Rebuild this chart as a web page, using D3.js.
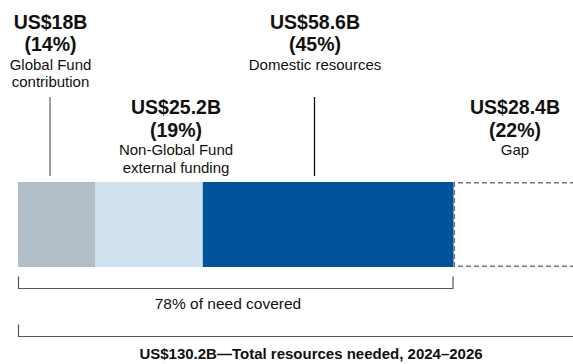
<!DOCTYPE html>
<html>
<head>
<meta charset="utf-8">
<script src="https://cdn.jsdelivr.net/npm/d3@7"></script>
<style>
  body { margin: 0; background: #fff; }
  text { font-family: "Liberation Sans", Arial, sans-serif; fill: #111; }
</style>
</head>
<body>
<div id="chart"></div>
<script>
// Funding breakdown, stacked horizontal bar

var categories = ["Global Fund contribution", "Non-Global Fund external funding", "Domestic resources", "Gap"];
var values = [18, 25.2, 58.6, 28.4];
var percents = [14, 19, 45, 22];
var valueLabels = ["US$18B", "US$25.2B", "US$58.6B", "US$28.4B"];
var descLines = [["Global Fund", "contribution"], ["Non-Global Fund", "external funding"], ["Domestic resources"], ["Gap"]];
var total = 130.2;
var coveredLabel = "78% of need covered";
var totalLabel = "US$130.2B\u2014Total resources needed, 2024\u20132026";

var svgWidth = 573, svgHeight = 364;
var colors = ["#b1bec7", "#cfe1ec", "#00529b", "none"];

var svg = d3.select("#chart")
    .append("svg")
    .attr("width", svgWidth)
    .attr("height", svgHeight);

var x = d3.scaleLinear()
    .domain([0, total])
    .range([18, 575]);

var barTop = 182, barBottom = 267;

// stack the segments
var stacked = [];
var acc = 0;
values.forEach(function(v, i) {
    stacked.push({name: categories[i], x0: acc, x1: acc + v, i: i});
    acc += v;
});

// solid segments
svg.selectAll("rect.seg")
    .data(stacked.slice(0, 3))
    .enter()
    .append("rect")
    .attr("class", "seg")
    .attr("x", d => x(d.x0))
    .attr("y", barTop)
    .attr("width", d => x(d.x1) - x(d.x0))
    .attr("height", barBottom - barTop)
    .attr("fill", d => colors[d.i]);

// gap: dashed outline, open on the right
var gap = stacked[3];
var gx0 = x(gap.x0) + 0.75, gx1 = x(gap.x1);
svg.append("path")
    .attr("d", "M" + gx1 + "," + (barTop + 0.75) + "H" + gx0 + "V" + (barBottom - 0.75) + "H" + gx1)
    .attr("fill", "none")
    .attr("stroke", "#6b7476")
    .attr("stroke-width", 1.6)
    .attr("stroke-dasharray", "5,3");

// labels: [label center x, first baseline]
var labelPos = [[50.5, 28.5], [176, 114], [315, 28.5], [515, 114]];

var labels = svg.selectAll("g.label")
    .data(stacked)
    .enter()
    .append("g")
    .attr("class", "label")
    .attr("transform", d => "translate(" + labelPos[d.i][0] + "," + labelPos[d.i][1] + ")");

labels.append("text")
    .attr("text-anchor", "middle")
    .attr("font-size", "19.5px")
    .attr("font-weight", "bold")
    .text(d => valueLabels[d.i]);

labels.append("text")
    .attr("text-anchor", "middle")
    .attr("y", 22.5)
    .attr("font-size", "19.5px")
    .attr("font-weight", "bold")
    .text(d => "(" + percents[d.i] + "%)");

labels.each(function(d) {
    var g = d3.select(this);
    descLines[d.i].forEach(function(line, k) {
        g.append("text")
            .attr("text-anchor", "middle")
            .attr("y", 41 + k * 17.5)
            .attr("font-size", "15px")
            .text(line);
    });
});

// leader lines
var leaders = [{x: 50, color: "#666"}, {x: 314.5, color: "#111"}];
svg.selectAll("line.leader")
    .data(leaders)
    .enter()
    .append("line")
    .attr("class", "leader")
    .attr("x1", d => d.x).attr("x2", d => d.x)
    .attr("y1", 97).attr("y2", 176)
    .attr("stroke", d => d.color)
    .attr("stroke-width", 1.3);

// brackets
function bracket(xa, xb, yLine, tickLen, closeRight) {
    var d = "M" + xa + "," + (yLine - tickLen) + "V" + yLine + "H" + xb;
    if (closeRight) d += "V" + (yLine - tickLen);
    svg.append("path")
        .attr("d", d)
        .attr("fill", "none")
        .attr("stroke", "#555")
        .attr("stroke-width", 1.2);
}

var coveredEnd = x(stacked[2].x1);
bracket(x(0) + 0.5, coveredEnd - 0.5, 288.5, 12, true);
svg.append("text")
    .attr("x", 228)
    .attr("y", 309)
    .attr("text-anchor", "middle")
    .attr("font-size", "15.5px")
    .text(coveredLabel);

bracket(x(0) + 0.5, svgWidth, 336.5, 12, false);
svg.append("text")
    .attr("x", 311)
    .attr("y", 359)
    .attr("text-anchor", "middle")
    .attr("font-size", "15px")
    .attr("font-weight", "bold")
    .text(totalLabel);
</script>
</body>
</html>
